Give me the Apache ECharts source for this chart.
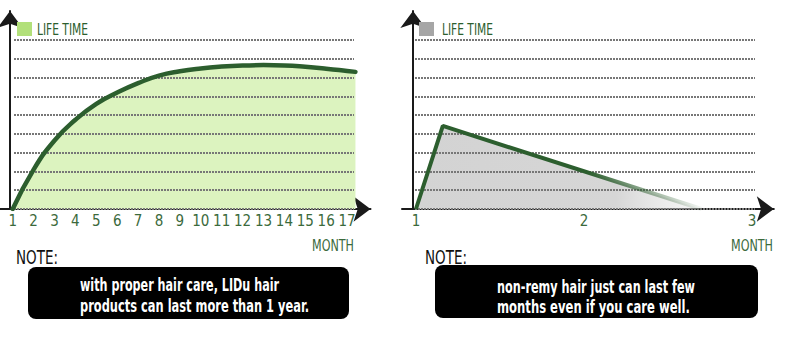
<!DOCTYPE html>
<html>
<head>
<meta charset="utf-8">
<script src="https://cdn.jsdelivr.net/npm/echarts@6/dist/echarts.min.js"></script>
<style>
html,body{margin:0;padding:0;background:#fff;}
#c{width:800px;height:339px;}
</style>
</head>
<body>
<div id="c"></div>
<script>
// ---- data ----
const liduMonths = [1, 2, 3, 4, 5, 6, 7, 8, 9, 10, 11, 12, 13, 14, 15, 16, 17, 17.4];
const liduLife   = [0, 2.1, 3.65, 4.75, 5.6, 6.2, 6.7, 7.1, 7.33, 7.48, 7.58, 7.64, 7.66, 7.64, 7.57, 7.47, 7.35, 7.3];
const remyMonths = [1, 1.16, 2.7];
const remyLife   = [0, 4.42, 0];
const leftTicks  = [1, 2, 3, 4, 5, 6, 7, 8, 9, 10, 11, 12, 13, 14, 15, 16, 17];
const rightTicks = [1, 2, 3];
const legendLabel = 'LIFE TIME';
const axisTitle = 'MONTH';
const noteTitle = 'NOTE:';
const leftNote  = ['with proper hair care, LIDu hair', 'products can last more than 1 year.'];
const rightNote = ['non-remy hair just can last few', 'months even if you care well.'];

const FONT = "'Liberation Sans Narrow','DejaVu Sans Condensed','Arial Narrow','Roboto',sans-serif";
const GREEN_DARK = '#2c5e2e';
const LABEL_GREEN = '#3b6a3c';

const mctx = document.createElement('canvas').getContext('2d');
function fit(text, size, target, weight) {
  mctx.font = (weight || 'normal') + ' ' + size + 'px ' + FONT;
  const w = mctx.measureText(text).width;
  return target / w;
}
function fitText(text, x, y, size, target, color, weight) {
  const wt = weight || 'normal';
  const sx = fit(text, size, target, wt);
  return {
    type: 'text', x: x, y: y, scaleX: sx, scaleY: 1,
    style: { text: text, font: wt + ' ' + size + 'px ' + FONT, fill: color, verticalAlign: 'middle' },
    z: 10
  };
}

const chart = echarts.init(document.getElementById('c'), null, { renderer: 'svg' });

function axisLineStyle() {
  return { show: true, onZero: false, symbol: ['none', 'arrow'], symbolSize: [19, 17],
           lineStyle: { color: '#1a1a1a', width: 2 } };
}
const splitStyle = { show: true, lineStyle: { color: '#777777', width: 2, type: [2, 1] } };

const option = {
  animation: false,
  grid: [
    { left: 0, top: 11, width: 370.5, height: 198 },
    { left: 14, top: 40, width: 340, height: 169 },
    { left: 402, top: 11, width: 371.8, height: 198 },
    { left: 415, top: 40, width: 340, height: 169 }
  ],
  xAxis: [
    { type: 'value', gridIndex: 0, min: 0.392, max: 18.12, axisLine: axisLineStyle(),
      splitLine: { show: false }, axisTick: { show: false },
      axisLabel: { customValues: leftTicks, color: LABEL_GREEN, fontSize: 15, fontFamily: FONT, margin: 4 } },
    { type: 'value', gridIndex: 1, min: 0, max: 1, show: false },
    { type: 'value', gridIndex: 2, min: 0.917, max: 3.13, axisLine: axisLineStyle(),
      splitLine: { show: false }, axisTick: { show: false },
      axisLabel: { customValues: rightTicks, color: LABEL_GREEN, fontSize: 15, fontFamily: FONT, margin: 4 } },
    { type: 'value', gridIndex: 3, min: 0, max: 1, show: false }
  ],
  yAxis: [
    { type: 'value', gridIndex: 0, min: 0, max: 10.54, offset: -10, axisLine: axisLineStyle(),
      splitLine: { show: false }, axisTick: { show: false }, axisLabel: { show: false } },
    { type: 'value', gridIndex: 1, min: 0, max: 9, interval: 1, z: 3, axisLine: { show: false },
      axisTick: { show: false }, axisLabel: { show: false }, splitLine: splitStyle },
    { type: 'value', gridIndex: 2, min: 0, max: 10.54, offset: -11, axisLine: axisLineStyle(),
      splitLine: { show: false }, axisTick: { show: false }, axisLabel: { show: false } },
    { type: 'value', gridIndex: 3, min: 0, max: 9, interval: 1, z: 3, axisLine: { show: false },
      axisTick: { show: false }, axisLabel: { show: false }, splitLine: splitStyle }
  ],
  series: [
    { type: 'line', xAxisIndex: 0, yAxisIndex: 0, z: 2, smooth: 0.5, symbol: 'none',
      data: liduMonths.map((m, i) => [m, liduLife[i]]),
      lineStyle: { width: 0 }, areaStyle: { color: '#dcf3bf', opacity: 1 } },
    { type: 'line', xAxisIndex: 0, yAxisIndex: 0, z: 5, smooth: 0.5, symbol: 'none',
      data: liduMonths.map((m, i) => [m, liduLife[i]]),
      lineStyle: { width: 4.5, color: GREEN_DARK, cap: 'round' } },
    { type: 'line', xAxisIndex: 2, yAxisIndex: 2, z: 2, symbol: 'none',
      data: remyMonths.map((m, i) => [m, remyLife[i]]),
      lineStyle: { width: 0 },
      areaStyle: { opacity: 1, color: new echarts.graphic.LinearGradient(0, 0, 1, 0, [
        { offset: 0, color: '#d3d3d3' }, { offset: 0.7, color: '#d6d6d6' }, { offset: 1, color: 'rgba(235,235,235,0.4)' }]) } },
    { type: 'line', xAxisIndex: 2, yAxisIndex: 2, z: 5, symbol: 'none',
      data: remyMonths.map((m, i) => [m, remyLife[i]]),
      lineStyle: { width: 4, color: new echarts.graphic.LinearGradient(0, 0, 1, 0, [
        { offset: 0, color: GREEN_DARK }, { offset: 0.6, color: GREEN_DARK }, { offset: 1, color: 'rgba(44,94,46,0.05)' }]) } }
  ],
  graphic: [
    // legends
    { type: 'rect', shape: { x: 17, y: 22, width: 15, height: 14 }, style: { fill: '#b2e07a' }, z: 10 },
    fitText(legendLabel, 37, 29, 16, 51, GREEN_DARK),
    { type: 'rect', shape: { x: 419, y: 22, width: 15, height: 14 }, style: { fill: '#a6a6a6' }, z: 10 },
    fitText(legendLabel, 442, 29, 16, 51, GREEN_DARK),
    // axis titles
    fitText(axisTitle, 312, 245, 16, 42, LABEL_GREEN),
    fitText(axisTitle, 731, 245, 16, 42, LABEL_GREEN),
    // notes
    fitText(noteTitle, 16, 257, 19, 42, '#111111'),
    fitText(noteTitle, 425, 257, 19, 42, '#111111'),
    { type: 'rect', shape: { x: 28, y: 267, width: 321, height: 52, r: 8 }, style: { fill: '#000000' }, z: 9 },
    { type: 'rect', shape: { x: 435, y: 265, width: 323, height: 53, r: 8 }, style: { fill: '#000000' }, z: 9 },
    fitText(leftNote[0], 80, 285, 18, 199, '#ffffff', 'bold'),
    fitText(leftNote[1], 80, 306, 18, 229, '#ffffff', 'bold'),
    fitText(rightNote[0], 497, 287, 18, 198, '#ffffff', 'bold'),
    fitText(rightNote[1], 497, 307, 18, 193, '#ffffff', 'bold')
  ]
};
chart.setOption(option);
</script>
</body>
</html>
